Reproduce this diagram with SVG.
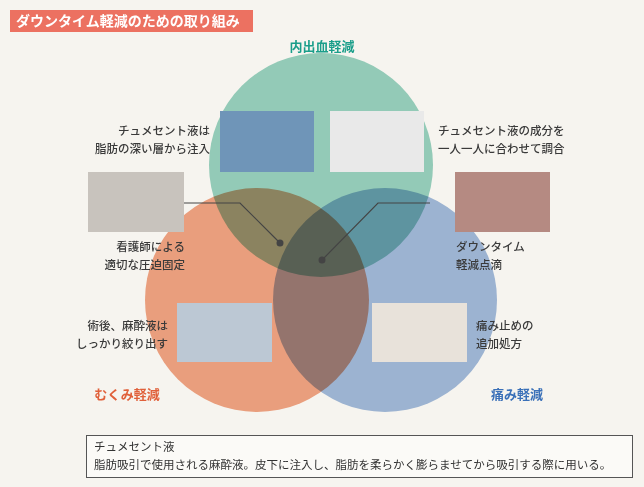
<svg xmlns="http://www.w3.org/2000/svg" width="644" height="487" viewBox="0 0 644 487">
<style>
text{font-family:"Noto Sans CJK JP","Noto Sans",sans-serif}
.lbl{font-size:11.5px;fill:#3a3a3a;font-weight:500}
.c{mix-blend-mode:multiply}
</style>
<rect width="644" height="487" fill="#f6f4ef"/>
<g id="title"><rect x="10" y="10" width="243" height="22" fill="#ec7161"/><text x="16" y="26" font-size="14" font-weight="bold" fill="#fff">ダウンタイム軽減のための取り組み</text></g>
<g id="circles">
<circle class="c" cx="321" cy="165" r="112" fill="#98d3c3"/>
<circle class="c" cx="257" cy="300" r="112" fill="#f2a585"/>
<circle class="c" cx="385" cy="300" r="112" fill="#a2bbdf"/>
</g>
<g id="connectors" stroke="#444" stroke-width="1.2" fill="none">
<polyline points="184,203 240,203 280,243"/>
<polyline points="430,203 378,203 322,260"/>
<circle cx="280" cy="243" r="3.5" fill="#444" stroke="none"/>
<circle cx="322" cy="260" r="3.5" fill="#444" stroke="none"/>
</g>
<g id="n-top"><text x="322" y="51" text-anchor="middle" font-size="13" font-weight="bold" fill="#1a9e8a">内出血軽減</text></g>
<g id="n-left"><text x="127" y="399" text-anchor="middle" font-size="13" font-weight="bold" fill="#e0603a">むくみ軽減</text></g>
<g id="n-right"><text x="517" y="399" text-anchor="middle" font-size="13" font-weight="bold" fill="#3a70b8">痛み軽減</text></g>
<g id="img1"><rect x="220" y="111" width="94" height="61" fill="#6f95b8"/><text class="lbl" x="210" y="135" text-anchor="end">チュメセント液は</text><text class="lbl" x="210" y="153" text-anchor="end">脂肪の深い層から注入</text></g>
<g id="img2"><rect x="330" y="111" width="94" height="61" fill="#e9e9e9"/><text class="lbl" x="438" y="135">チュメセント液の成分を</text><text class="lbl" x="438" y="153">一人一人に合わせて調合</text></g>
<g id="img3"><rect x="88" y="172" width="96" height="60" fill="#c8c3bd"/><text class="lbl" x="185" y="251" text-anchor="end">看護師による</text><text class="lbl" x="185" y="269" text-anchor="end">適切な圧迫固定</text></g>
<g id="img4"><rect x="455" y="172" width="95" height="60" fill="#b58a82"/><text class="lbl" x="456" y="251">ダウンタイム</text><text class="lbl" x="456" y="269">軽減点滴</text></g>
<g id="img5"><rect x="177" y="303" width="95" height="59" fill="#bcc8d4"/><text class="lbl" x="168" y="330" text-anchor="end">術後、麻酔液は</text><text class="lbl" x="168" y="348" text-anchor="end">しっかり絞り出す</text></g>
<g id="img6"><rect x="372" y="303" width="95" height="59" fill="#e8e2da"/><text class="lbl" x="476" y="330">痛み止めの</text><text class="lbl" x="476" y="348">追加処方</text></g>
<g id="note"><rect x="86.5" y="435.5" width="546" height="42" fill="#fff" fill-opacity="0.5" stroke="#555"/><text x="94" y="451" font-size="11.5" fill="#333">チュメセント液</text><text x="94" y="469" font-size="11.5" fill="#333">脂肪吸引で使用される麻酔液。皮下に注入し、脂肪を柔らかく膨らませてから吸引する際に用いる。</text></g>
</svg>
